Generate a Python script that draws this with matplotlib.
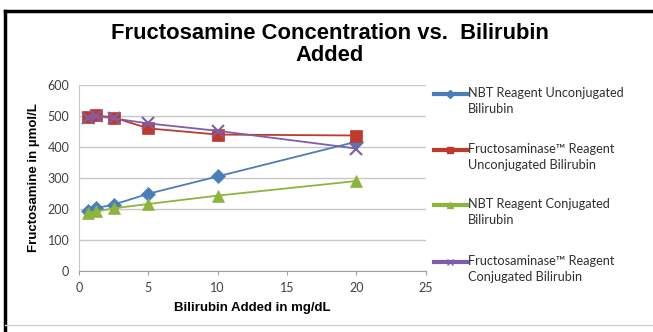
import matplotlib
matplotlib.use("Agg")
import matplotlib.pyplot as plt
from matplotlib.lines import Line2D

plt.rcParams['font.family'] = ['Liberation Sans', 'DejaVu Sans']

# bilirubin added (mg/dL)
bilirubin = [0.625, 1.25, 2.5, 5, 10, 20]

nbt_unconj = [192, 203, 214, 249, 305, 417]
fructo_unconj = [497, 502, 495, 460, 440, 437]
nbt_conj = [188, 192, 202, 216, 243, 290]
fructo_conj = [495, 500, 492, 476, 452, 395]

labels = [
    "NBT Reagent Unconjugated\nBilirubin",
    "Fructosaminase\u2122 Reagent\nUnconjugated Bilirubin",
    "NBT Reagent Conjugated\nBilirubin",
    "Fructosaminase\u2122 Reagent\nConjugated Bilirubin",
]
colors = ['#4a7ebb', '#c0392f', '#8db53c', '#7d5fa8']
markers = ['D', 's', '^', 'x']
sizes = [7, 9, 9, 9]

W, H = 653, 332
fig = plt.figure(figsize=(W / 100, H / 100), dpi=100)
ax = fig.add_axes([0.121, 0.184, 0.531, 0.560])

series = [nbt_unconj, fructo_unconj, nbt_conj, fructo_conj]
for vals, c, m, ms in zip(series, colors, markers, sizes):
    ax.plot(bilirubin, vals, color=c, lw=1.3, marker=m, markersize=ms,
            markeredgewidth=1.5 if m == 'x' else 0.5, markeredgecolor=c)

ax.set_xlim(0, 25)
ax.set_ylim(0, 600)
ax.set_xticks([0, 5, 10, 15, 20, 25])
ax.set_yticks(range(0, 601, 100))
ax.yaxis.grid(True, color='#c8c8c8', lw=1)
ax.set_axisbelow(True)
for s in ['top', 'right']:
    ax.spines[s].set_visible(False)
ax.spines['left'].set_color('#c8c8c8')
ax.spines['bottom'].set_color('#a0a0a0')
ax.tick_params(axis='y', length=0, labelsize=9, colors='#404040', pad=7)
ax.tick_params(axis='x', length=3, color='#a0a0a0', direction='out',
               labelsize=9, labelcolor='#404040', pad=5)
for t in ax.get_xticklabels() + ax.get_yticklabels():
    t.set_family('Lato')

ax.set_xlabel("Bilirubin Added in mg/dL", fontsize=9.5, fontweight='bold', labelpad=6)
ax.set_ylabel("Fructosamine in \u00b5mol/L", fontsize=9.5, fontweight='bold', labelpad=5)

fig.text(0.505, 0.866, "Fructosamine Concentration vs.  Bilirubin\nAdded",
         ha='center', va='center', fontsize=15.8, fontweight='bold', linespacing=1.05)

# legend drawn by hand: handle sits level with the first text line
legend_rows = [94, 150, 205, 262]
for row, c, m, lab in zip(legend_rows, colors, markers, labels):
    yy = 1 - row / H
    fig.add_artist(Line2D([434 / W, 467 / W], [yy, yy], color=c, lw=3,
                          transform=fig.transFigure))
    fig.add_artist(Line2D([450.5 / W], [yy], color=c, marker=m, markersize=4,
                          markeredgecolor=c, transform=fig.transFigure))
    fig.text(468 / W, 1 - (row - 7) / H, lab, ha='left', va='top',
             family='Lato', fontsize=9.2, color='#303030', linespacing=1.4)

# outer frame of the embedded chart
fig.add_artist(Line2D([0.008, 0.008], [0.0, 0.967], color='black', lw=2.5,
                      transform=fig.transFigure))
fig.add_artist(Line2D([0.008, 1.0], [0.967, 0.967], color='black', lw=2.5,
                      transform=fig.transFigure))
fig.add_artist(Line2D([0.008, 1.0], [0.02, 0.02], color='#d0d0d0', lw=1,
                      transform=fig.transFigure))

fig.savefig("out.png", dpi=100)
